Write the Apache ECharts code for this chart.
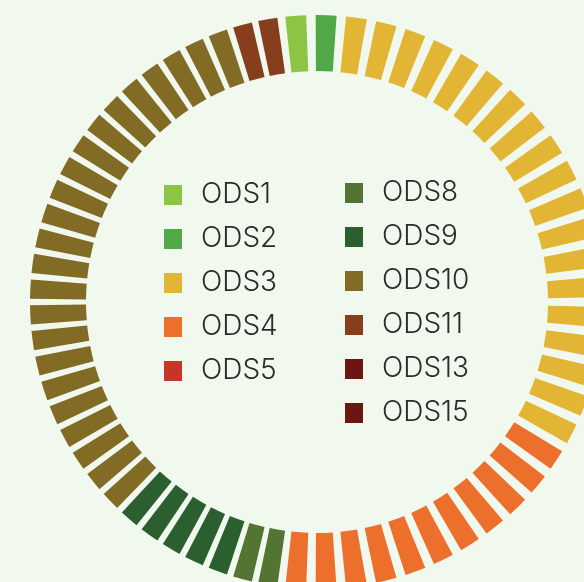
<!DOCTYPE html>
<html>
<head>
<meta charset="utf-8">
<script src="https://cdn.jsdelivr.net/npm/echarts@6/dist/echarts.min.js"></script>
<style>
  html, body { margin: 0; padding: 0; background: #f1f8ee; }
  #chart { width: 584px; height: 582px; }
</style>
</head>
<body>
<div id="chart"></div>
<script>
// one ring segment per unit
const rightGoals = ['ODS1', 'ODS2', 'ODS3', 'ODS4', 'ODS5']
const rightCounts = [1, 1, 19, 11, 0]
const rightColors = ['#8bc543', '#50a846', '#e2b634', '#ec6f2b', '#c53629']

const leftGoals = ['ODS8', 'ODS9', 'ODS10', 'ODS11', 'ODS13', 'ODS15']
const leftCounts = [2, 5, 23, 2, 0, 0]
const leftColors = ['#547434', '#2b5f2f', '#826b25', '#863e1d', '#6c1512', '#6c1512']

function segments (goals, counts, colors) {
  const out = []
  goals.forEach((g, i) => {
    for (let k = 0; k < counts[i]; k++) {
      out.push({ name: g, value: 1, itemStyle: { color: colors[i] } })
    }
  })
  return out
}

// goals with no segment still get a legend entry
function emptyGoals (goals, counts, colors) {
  const out = []
  goals.forEach((g, i) => {
    if (counts[i] === 0) out.push({ name: g, value: 0, itemStyle: { color: colors[i] } })
  })
  return out
}

const chart = echarts.init(document.getElementById('chart'))

const legendBase = {
  orient: 'vertical',
  icon: 'rect',
  padding: 0,
  itemWidth: 18,
  itemHeight: 20,
  itemGap: 16,
  selectedMode: false,
  textStyle: {
    fontFamily: 'Inter',
    fontWeight: 300,
    fontSize: 28,
    color: '#2b2b2b',
    lineHeight: 26,
    padding: [0, 0, 0, 14]
  }
}

const ringBase = {
  type: 'pie',
  center: [317, 302],
  radius: [231, 287],
  clockwise: true,
  silent: true,
  label: { show: false },
  labelLine: { show: false },
  itemStyle: { borderWidth: 0 }
}

chart.setOption({
  backgroundColor: '#f1f8ee',
  animation: false,
  legend: [
    Object.assign({}, legendBase, { left: 164, top: 181, data: rightGoals }),
    Object.assign({}, legendBase, { left: 345, top: 179, data: leftGoals })
  ],
  series: [
    Object.assign({}, ringBase, {
      name: 'right',
      startAngle: 97.3,
      endAngle: -97.3,
      padAngle: 1.9,
      data: segments(rightGoals, rightCounts, rightColors)
    }),
    Object.assign({}, ringBase, {
      name: 'left',
      startAngle: -97.3,
      endAngle: -262.7,
      padAngle: 1.3,
      data: segments(leftGoals, leftCounts, leftColors)
    }),
    Object.assign({}, ringBase, {
      name: 'empty',
      radius: [0, 0],
      stillShowZeroSum: false,
      data: emptyGoals(rightGoals, rightCounts, rightColors)
        .concat(emptyGoals(leftGoals, leftCounts, leftColors))
    })
  ]
})
</script>
</body>
</html>
